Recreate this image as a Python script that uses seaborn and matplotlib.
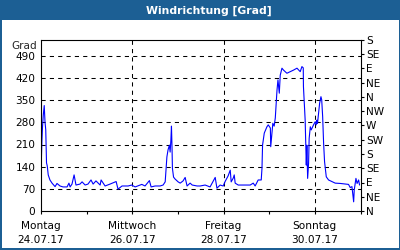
import numpy as np
import pandas as pd
import seaborn as sns
import matplotlib
matplotlib.use("Agg")
import matplotlib.pyplot as plt
from matplotlib.patches import Rectangle

# ---- data (hours since Mon 24.07.17 00:00, wind direction in degrees) ----
hours = [0.16, 0.5, 0.8, 1.2, 1.7, 2.1, 2.5, 2.9, 3.3, 3.8, 4.7, 5.8, 7.4, 8.4, 10.0,
         11.6, 13.7, 14.7, 15.3, 16.3, 17.4, 18.4, 20.5, 21.6, 23.2, 24.7, 26.3, 27.4,
         28.9, 31.1, 31.6, 33.7, 36.3, 39.5, 40.5, 42.6, 45.8, 47.7, 49.5, 53.0, 54.7,
         57.0, 57.9, 60.0, 62.6, 64.2, 65.3, 66.2, 66.8, 67.5, 67.9, 68.3, 68.6, 68.9,
         69.1, 69.7, 70.5, 72.1, 73.2, 74.7, 75.8, 76.8, 78.4, 79.5, 82.1, 83.7, 86.3,
         88.9, 91.6, 92.5, 94.2, 95.8, 96.8, 98.4, 99.5, 100.0, 101.1, 101.6, 102.1,
         103.7, 107.4, 110.0, 111.6, 112.6, 114.2, 115.8, 116.2, 116.5, 117.4, 118.8,
         119.5, 120.6, 120.8, 121.3, 121.9, 122.6, 123.2, 123.6, 124.1, 124.6, 125.3,
         125.8, 126.7, 127.5, 129.3, 131.0, 132.8, 134.6, 136.3, 137.2, 137.9, 138.0,
         138.9, 139.5, 139.8, 140.2, 140.7, 141.0, 141.6, 142.1, 143.3, 144.2, 144.7,
         145.1, 145.4, 146.5, 147.2, 147.6, 148.1, 148.6, 149.1, 150.0, 151.2, 153.0,
         154.7, 157.4, 160.0, 161.7, 162.6, 163.5, 164.4, 164.7, 165.6, 166.2, 167.0,
         167.5]
grad = [156, 224, 266, 303, 333, 282, 256, 152, 142, 114, 98, 88, 77, 87, 79,
        76, 76, 88, 76, 85, 114, 82, 85, 92, 82, 85, 98, 85,
        95, 82, 98, 79, 85, 93, 69, 79, 79, 82, 76, 84, 79,
        96, 76, 79, 79, 82, 92, 171, 193, 208, 186, 224, 268, 199,
        135, 107, 101, 92, 88, 95, 106, 79, 88, 82, 79, 79, 82,
        76, 106, 72, 82, 79, 93, 111, 129, 92, 104, 114, 88,
        82, 82, 82, 88, 79, 98, 98, 135, 208, 246, 266,
        272, 262, 203, 237, 277, 268, 294, 335, 382, 414, 372,
        429, 451, 445, 435, 440, 445, 451, 440, 456, 452, 393,
        287, 145, 208, 103, 150, 229, 266, 256, 272, 282, 272,
        287, 277, 340, 361, 351, 298, 214, 156, 108, 98, 93,
        88, 87, 85, 84, 74, 77, 29, 66, 103, 87, 98,
        82]

y_ticks = [0, 70, 140, 210, 280, 350, 420, 490]
compass_labels = ["N", "NE", "E", "SE", "S", "SW", "W", "NW", "N", "NE", "E", "SE", "S"]
day_names = ["Montag", "Mittwoch", "Freitag", "Sonntag"]
day_dates = ["24.07.17", "26.07.17", "28.07.17", "30.07.17"]
title = "Windrichtung [Grad]"
unit = "Grad"

df = pd.DataFrame({"hours": hours, "grad": grad})

sns.set_style("white")
plt.rcParams["font.family"] = ["DejaVu Sans"]
plt.rcParams["font.size"] = 7.6

W, H = 400, 250
fig = plt.figure(figsize=(W / 100, H / 100), dpi=100)
fig.patch.set_facecolor("white")

blue = "#1c5f94"
# title bar and frame
fig.patches.append(Rectangle((0, 1 - 20 / H), 1, 20 / H, transform=fig.transFigure,
                             facecolor=blue, edgecolor="none", zorder=0))
fig.patches.append(Rectangle((0, 0), 1.5 / W, 1, transform=fig.transFigure,
                             facecolor=blue, edgecolor="none", zorder=0))
fig.patches.append(Rectangle((1 - 1.5 / W, 0), 1.5 / W, 1, transform=fig.transFigure,
                             facecolor=blue, edgecolor="none", zorder=0))
fig.patches.append(Rectangle((0, 0), 1, 2.2 / H, transform=fig.transFigure,
                             facecolor=blue, edgecolor="none", zorder=0))
fig.text(209 / W, 1 - 10.5 / H, title, color="white", fontweight="bold",
         ha="center", va="center", fontsize=7.8)

left, right, top, bottom = 41, 360.5, 40, 211
ax = fig.add_axes([left / W, 1 - bottom / H, (right - left) / W, (bottom - top) / H])
ax.set_facecolor("white")

sns.lineplot(data=df, x="hours", y="grad", ax=ax, color="#0000ff", linewidth=0.8,
             estimator=None, sort=False)

ax.set_xlim(0, 168)
ax.set_ylim(0, 540)
ax.set_xlabel("")
ax.set_ylabel("")

ax.set_yticks(y_ticks)
ax.set_yticklabels([str(v) for v in y_ticks])
ax.set_xticks([0, 48, 96, 144])
ax.set_xticklabels([f"{n}\n{d}" for n, d in zip(day_names, day_dates)], linespacing=1.45)
ax.set_xticks([24, 72, 120, 168], minor=True)

grid_kw = dict(color="black", linewidth=0.75, linestyle=(0, (4, 4)))
for v in y_ticks[1:]:
    ax.axhline(v, **grid_kw, zorder=1)
for v in [48, 96, 144]:
    ax.axvline(v, **grid_kw, zorder=1)

for s in ax.spines.values():
    s.set_color("black")
    s.set_linewidth(0.8)
    s.set_visible(True)

ax.tick_params(axis="y", which="both", left=False, length=0, pad=4, labelsize=7.6, colors="black")
ax.tick_params(axis="x", which="both", bottom=True, direction="out", length=2.5,
               width=0.8, pad=5, labelsize=7.6, colors="black")

ax.text(-3.5 / (right - left), 1 - 6 / (bottom - top), unit, transform=ax.transAxes,
        ha="right", va="center", fontsize=7.6)

ax2 = ax.twinx()
ax2.set_ylim(0, 540)
ax2.set_yticks(np.arange(0, 541, 45))
ax2.set_yticklabels(compass_labels)
ax2.tick_params(axis="y", right=True, direction="out", length=2.5, width=0.8, pad=1.5,
                labelsize=7.6, colors="black")
for s in ax2.spines.values():
    s.set_visible(False)
ax2.grid(False)

fig.savefig("out.png", dpi=100, facecolor=fig.get_facecolor())
